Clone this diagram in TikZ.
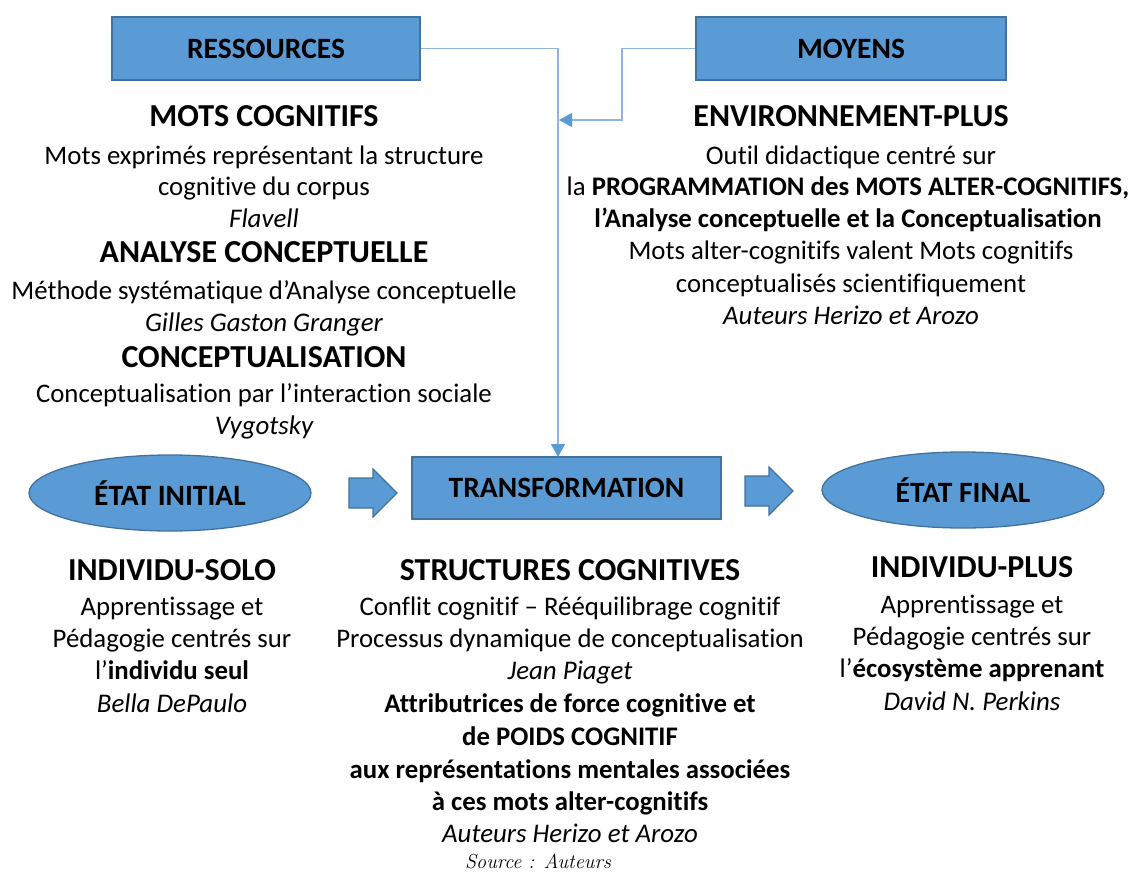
\documentclass[tikz,border=0pt]{standalone}
\usepackage{fontspec}
\newfontfamily\cf[Ligatures={NoCommon}]{Carlito}
\usetikzlibrary{shapes.geometric,arrows.meta}
\definecolor{fillblue}{HTML}{5B9BD5}
\definecolor{edgeblue}{HTML}{41719C}
\definecolor{lineblue}{HTML}{8FB6E2}
\tikzset{
  box/.style={draw=edgeblue, fill=fillblue, line width=1.3pt, inner sep=0pt,
    font=\cf\bfseries\fontsize{29.5}{34}\selectfont},
  oval/.style={ellipse, draw=edgeblue, fill=fillblue, line width=1.3pt, inner sep=0pt,
    minimum width=282pt, minimum height=76pt, font=\cf\bfseries\fontsize{29.5}{34}\selectfont},
  barrow/.style={draw=edgeblue, fill=fillblue, line width=1.2pt, line join=miter},
  conn/.style={draw=lineblue, line width=1.4pt},
  tip/.style={-{Triangle[length=13pt,width=14pt,color=fillblue]}},
  body/.style={anchor=base, inner sep=0pt, font=\cf\fontsize{26.8}{31}\selectfont},
  ital/.style={anchor=base, inner sep=0pt, font=\cf\itshape\fontsize{26.9}{31}\selectfont},
  bodyb/.style={anchor=base, inner sep=0pt, font=\cf\bfseries\fontsize{26.8}{31}\selectfont},
  head/.style={anchor=base, inner sep=0pt, font=\cf\bfseries\fontsize{32}{37}\selectfont},
}
\begin{document}
\begin{tikzpicture}[x=1pt,y=-1pt]
\useasboundingbox (0,0) rectangle (1137,872);

% top boxes
\node[box, minimum width=308pt, minimum height=63pt] (res) at (266,48.5) {RESSOURCES};
\node[box, minimum width=310pt, minimum height=63pt] (moy) at (851,48.5) {MOYENS};

% middle row
\node[oval] (ini) at (170,493) {ÉTAT INITIAL};
\node[box, minimum width=309pt, minimum height=62pt] (trans) at (566.5,488) {TRANSFORMATION};
\node[oval] (fin) at (963,490) {ÉTAT FINAL};

% block arrows
\draw[barrow] (349,478) -- (373,478) -- (373,469) -- (397,493) -- (373,517) -- (373,508) -- (349,508) -- cycle;
\draw[barrow] (745,476) -- (769,476) -- (769,467) -- (793,491) -- (769,515) -- (769,506) -- (745,506) -- cycle;

% connectors
\coordinate (tin) at (558,457);
\coordinate (m1) at (622,120);
\coordinate (m2) at (559,120);
\draw[conn, tip] (res.east) -| (tin);
\draw[conn, tip] (moy.west) -| (m1) -- (m2);

% left top column
\node[head] (t1) at (264,127) {MOTS COGNITIFS};
\node[body] (t2) at (264,164) {Mots exprimés représentant la structure};
\node[body] (t3) at (264,195) {cognitive du corpus};
\node[ital] (t4) at (264,227) {Flavell};
\node[head] (t5) at (264,262) {ANALYSE CONCEPTUELLE};
\node[body] (t6) at (264,299) {Méthode systématique d’Analyse conceptuelle};
\node[ital] (t7) at (264,331) {Gilles Gaston Granger};
\node[head] (t8) at (264,367) {CONCEPTUALISATION};
\node[body] (t9) at (264,402) {Conceptualisation par l’interaction sociale};
\node[ital] (t10) at (264,434) {Vygotsky};

% right top column
\node[head] (r1) at (851,127) {ENVIRONNEMENT-PLUS};
\node[body] (r2) at (851,164) {Outil didactique centré sur};
\node[body] (r3) at (848,195) {la \textbf{PROGRAMMATION des MOTS ALTER-COGNITIFS,}};
\node[bodyb] (r4) at (848,227) {l’Analyse conceptuelle et la Conceptualisation};
\node[body] (r5) at (851,259) {Mots alter-cognitifs valent Mots cognitifs};
\node[body] (r6) at (851,292) {conceptualisés scientifiquement};
\node[ital] (r7) at (851,324) {Auteurs Herizo et Arozo};

% bottom left
\node[head] (b1) at (172,580) {INDIVIDU-SOLO};
\node[body] (b2) at (172,615) {Apprentissage et};
\node[body] (b3) at (172,647) {Pédagogie centrés sur};
\node[body] (b4) at (172,679) {l’\textbf{individu seul}};
\node[ital] (b5) at (172,712) {Bella DePaulo};

% bottom middle
\node[head] (c1) at (570,580) {STRUCTURES COGNITIVES};
\node[body] (c2) at (570,615) {Conflit cognitif – Rééquilibrage cognitif};
\node[body] (c3) at (570,647) {Processus dynamique de conceptualisation};
\node[ital] (c4) at (570,679) {Jean Piaget};
\node[bodyb] (c5) at (570,712) {Attributrices de force cognitive et};
\node[bodyb] (c6) at (570,745) {de POIDS COGNITIF};
\node[bodyb] (c7) at (570,778) {aux représentations mentales associées};
\node[bodyb] (c8) at (570,810) {à ces mots alter-cognitifs};
\node[ital] (c9) at (570,842) {Auteurs Herizo et Arozo};
\node[anchor=base, inner sep=0pt, font=\itshape\fontsize{20.2}{24}\selectfont] (src) at (538,868) {Source : Auteurs};

% bottom right
\node[head] (d1) at (972,577) {INDIVIDU-PLUS};
\node[body] (d2) at (972,613) {Apprentissage et};
\node[body] (d3) at (972,645) {Pédagogie centrés sur};
\node[body] (d4) at (972,677) {l’\textbf{écosystème apprenant}};
\node[ital] (d5) at (972,710) {David N. Perkins};
\end{tikzpicture}
\end{document}
